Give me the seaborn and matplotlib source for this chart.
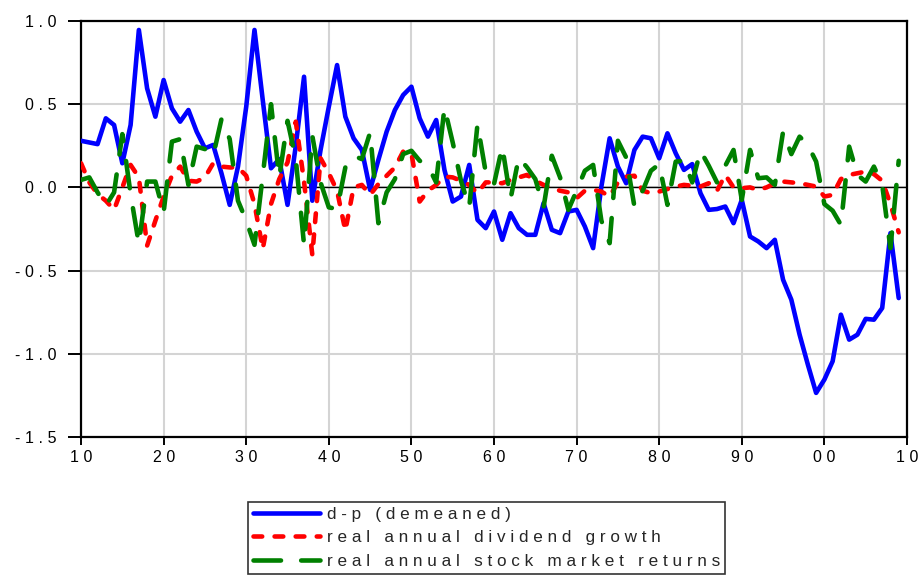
import numpy as np
import pandas as pd
import matplotlib.pyplot as plt
import seaborn as sns

# ── data ────────────────────────────────────────────────────────────────────
years = np.arange(1910, 2010)

dp_demeaned = [
    0.28, 0.27, 0.26, 0.415, 0.375, 0.145, 0.375, 0.946, 0.595, 0.425,
    0.645, 0.475, 0.395, 0.465, 0.335, 0.235, 0.255, 0.085, -0.105, 0.125,
    0.485, 0.946, 0.525, 0.115, 0.17, -0.105, 0.25, 0.665, -0.08, 0.225,
    0.485, 0.735, 0.425, 0.295, 0.225, -0.015, 0.165, 0.335, 0.465, 0.555,
    0.605, 0.415, 0.305, 0.405, 0.105, -0.085, -0.055, 0.135, -0.195, -0.245,
    -0.145, -0.315, -0.155, -0.245, -0.285, -0.285, -0.095, -0.255, -0.275, -0.145,
    -0.135, -0.235, -0.365, 0.005, 0.295, 0.125, 0.025, 0.225, 0.305, 0.295,
    0.175, 0.325, 0.205, 0.105, 0.14, -0.035, -0.135, -0.13, -0.115, -0.215,
    -0.075, -0.295, -0.325, -0.365, -0.315, -0.555, -0.675, -0.885, -1.065, -1.235,
    -1.155, -1.045, -0.765, -0.915, -0.885, -0.79, -0.795, -0.725, -0.275, -0.665,
]

div_growth = [
    0.145, 0.03, -0.04, -0.08, -0.135, 0.0, 0.135, 0.06, -0.35, -0.2,
    -0.055, 0.07, 0.125, 0.04, 0.035, 0.06, 0.145, 0.125, 0.12, 0.12,
    0.07, -0.1, -0.37, -0.1, 0.05, 0.15, 0.395, 0.035, -0.405, 0.175,
    0.085, -0.02, -0.26, 0.0, 0.015, -0.045, 0.02, 0.07, 0.12, 0.215,
    0.205, -0.085, -0.02, 0.015, 0.065, 0.06, 0.04, 0.015, -0.035, 0.03,
    0.03, 0.025, 0.045, 0.06, 0.075, 0.04, 0.015, -0.005, -0.02, -0.03,
    -0.065, -0.02, -0.015, -0.025, -0.055, 0.03, 0.065, 0.07, -0.02, -0.035,
    -0.025, -0.01, 0.005, 0.015, 0.01, 0.005, 0.025, -0.02, 0.075, 0.0,
    -0.005, 0.0, -0.015, 0.0, 0.025, 0.035, 0.03, 0.025, 0.015, 0.005,
    -0.055, -0.045, 0.05, 0.075, 0.085, 0.095, 0.08, 0.04, -0.1, -0.27,
]

stock_returns = [
    0.045, 0.06, -0.03, -0.11, -0.03, 0.32, -0.04, -0.34, 0.035, 0.035,
    -0.15, 0.275, 0.29, 0.015, 0.245, 0.23, 0.19, 0.41, 0.29, -0.08,
    -0.2, -0.345, 0.07, 0.5, 0.06, 0.4, 0.17, -0.345, 0.31, 0.03,
    -0.12, -0.13, 0.12, 0.19, 0.17, 0.33, -0.215, -0.03, 0.05, 0.2,
    0.22, 0.16, 0.13, 0.03, 0.48, 0.27, 0.04, -0.12, 0.38, 0.09,
    0.02, 0.245, -0.07, 0.18, 0.12, 0.05, -0.12, 0.19, 0.06, -0.135,
    -0.02, 0.1, 0.135, -0.2, -0.335, 0.28, 0.18, -0.115, -0.02, 0.1,
    0.14, -0.105, 0.155, 0.16, 0.03, 0.22, 0.13, 0.03, 0.13, 0.225,
    -0.075, 0.225, 0.055, 0.06, 0.015, 0.335, 0.2, 0.305, 0.255, 0.155,
    -0.1, -0.14, -0.225, 0.245, 0.075, 0.035, 0.125, 0.015, -0.365, 0.16,
]

series_labels = ["d-p (demeaned)", "real annual dividend growth",
                 "real annual stock market returns"]
x_ticks = [1910, 1920, 1930, 1940, 1950, 1960, 1970, 1980, 1990, 2000, 2010]
x_ticklabels = ["10", "20", "30", "40", "50", "60", "70", "80", "90", "00", "10"]
y_ticks = [-1.5, -1.0, -0.5, 0.0, 0.5, 1.0]
y_ticklabels = ["-1.5", "-1.0", "-0.5", "0.0", "0.5", "1.0"]


def spaced(s):
    # EViews-style wide letter spacing (thin + hair space between glyphs)
    return "\u2009\u200a".join(s)


df = pd.DataFrame({"year": years, "dp": dp_demeaned,
                   "div": div_growth, "ret": stock_returns})

sns.set_style("white")
plt.rcParams["font.family"] = ["Liberation Sans", "DejaVu Sans"]

fig = plt.figure(figsize=(9.22, 5.75), dpi=100)
ax = fig.add_axes([0.0879, 0.24, 0.8958, 0.7235])

ax.axhline(0, color="black", lw=1.0, zorder=1)

sns.lineplot(data=df, x="year", y="dp", ax=ax, color="#0000ff", lw=3.3,
             label=spaced(series_labels[0]), zorder=3)
sns.lineplot(data=df, x="year", y="div", ax=ax, color="#ff0000", lw=3.3,
             dashes=(1.9, 2.7), dash_capstyle="round",
             label=spaced(series_labels[1]), zorder=4)
sns.lineplot(data=df, x="year", y="ret", ax=ax, color="#008000", lw=3.3,
             dashes=(6.0, 4.4), dash_capstyle="round",
             label=spaced(series_labels[2]), zorder=5)

ax.set_xlim(1910, 2010)
ax.set_ylim(-1.5, 1.0)
ax.set_xticks(x_ticks)
ax.set_xticklabels([spaced(t) for t in x_ticklabels])
ax.set_yticks(y_ticks)
ax.set_yticklabels([spaced(t) for t in y_ticklabels])
ax.set_xlabel("")
ax.set_ylabel("")

ax.grid(True, color="#d4d4d4", lw=1.5, zorder=0)
ax.set_axisbelow(True)
for sp in ax.spines.values():
    sp.set_visible(True)
    sp.set_color("black")
    sp.set_linewidth(1.6)

ax.tick_params(axis="y", direction="out", length=9.5, width=1.4, pad=8,
               labelsize=11.5, colors="black", left=True)
ax.tick_params(axis="x", direction="out", length=6, width=1.4, pad=3,
               labelsize=11.5, colors="black", bottom=True)

ax.get_legend().remove()
handles, labels = ax.get_legend_handles_labels()
leg = fig.legend(handles, labels, loc="lower left",
                 bbox_to_anchor=(0.269, 0.002), borderaxespad=0,
                 frameon=True, fancybox=False, fontsize=12.3,
                 handlelength=3.9, handletextpad=0.4, borderpad=0.3,
                 labelspacing=0.5)
leg.get_frame().set_edgecolor("black")
leg.get_frame().set_linewidth(1.2)

plt.savefig("out.png", dpi=100)
plt.close()
